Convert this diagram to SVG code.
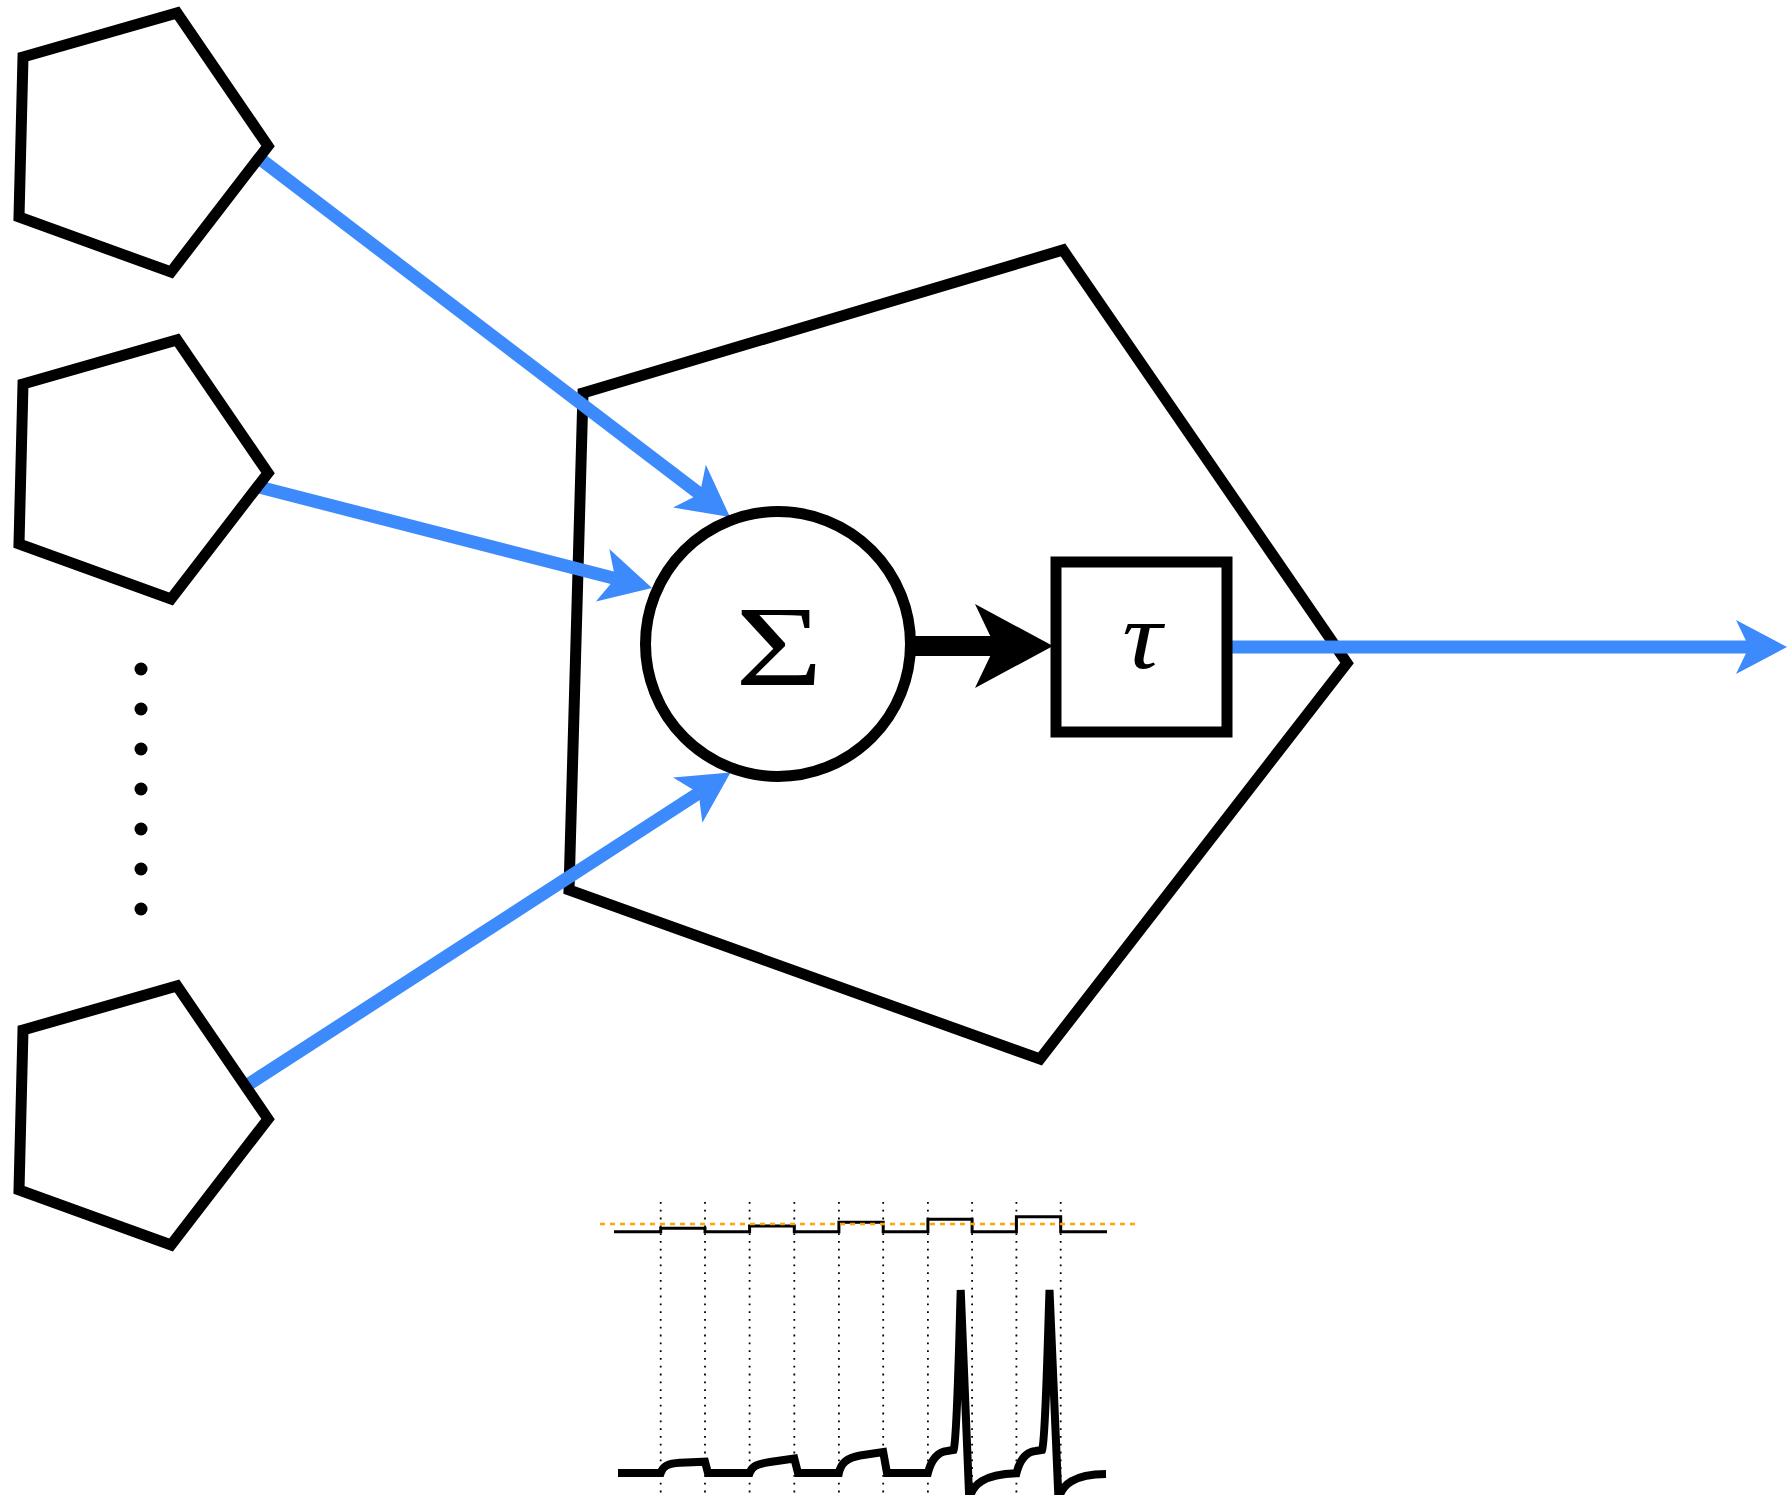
<svg xmlns="http://www.w3.org/2000/svg" width="1788" height="1495" viewBox="0 0 1788 1495">
  <defs>
    <style>
      .shape { fill: #ffffff; stroke: #000000; stroke-width: 11; stroke-linejoin: miter; }
      .blue { fill: none; stroke: #3c8afb; stroke-width: 13; }
      .dot { fill: #000000; }
      .grid { stroke: #000000; stroke-width: 1.8; stroke-dasharray: 1.8 6; fill: none; }
      .math { font-family: "Liberation Serif", "DejaVu Serif", serif; fill: #000000; }
    </style>
    <marker id="bluehead" markerUnits="userSpaceOnUse" orient="auto" refX="0" refY="0" markerWidth="120" markerHeight="120" viewBox="-60 -60 120 120" overflow="visible">
      <path d="M38,0 L-13,-27 L0,0 L-13,27 Z" fill="#3c8afb"/>
    </marker>
  </defs>

  <g id="neuron">
    <polygon class="shape" points="583,393 1063,250 1347,663 1040,1059 569,890"/>
  </g>

  <g id="connectors">
    <line class="blue" x1="259" y1="158" x2="699.8" y2="494" marker-end="url(#bluehead)"/>
    <line class="blue" x1="259" y1="487" x2="615.2" y2="578.5" marker-end="url(#bluehead)"/>
    <line class="blue" x1="246" y1="1086" x2="698.6" y2="793.1" marker-end="url(#bluehead)"/>
    <line class="blue" x1="1232" y1="647" x2="1749" y2="647" marker-end="url(#bluehead)"/>
    <line x1="905" y1="646" x2="997" y2="646" stroke="#000000" stroke-width="20"/>
    <polygon points="1053,646 975,604 995,646 975,688" fill="#000000"/>
  </g>

  <g id="input1">
    <polygon class="shape" points="23,57 177,13 268,146 171,272 19,217"/>
  </g>
  <g id="input2">
    <polygon class="shape" points="23,384 177,340 268,473 171,599 19,544"/>
  </g>
  <g id="input3">
    <polygon class="shape" points="23,1030 177,986 268,1119 171,1245 19,1190"/>
  </g>

  <g id="ellipsis">
    <circle class="dot" cx="141" cy="669" r="6.5"/>
    <circle class="dot" cx="141" cy="709" r="6.5"/>
    <circle class="dot" cx="141" cy="749" r="6.5"/>
    <circle class="dot" cx="141" cy="789" r="6.5"/>
    <circle class="dot" cx="141" cy="829" r="6.5"/>
    <circle class="dot" cx="141" cy="869" r="6.5"/>
    <circle class="dot" cx="141" cy="909" r="6.5"/>
  </g>

  <g id="sum">
    <circle class="shape" cx="778" cy="644" r="132.5"/>
    <text class="math" x="0" y="0" font-size="114" text-anchor="middle" transform="translate(779,685) scale(1.32,1)">Σ</text>
  </g>

  <g id="threshold">
    <rect class="shape" x="1056" y="562" width="171" height="170"/>
    <text class="math" x="0" y="0" font-size="96" font-style="italic" text-anchor="middle" transform="translate(1142,668) scale(1.15,1)">τ</text>
  </g>

  <g id="traces">
    <g id="gridlines">
      <line class="grid" x1="660.7" y1="1202" x2="660.7" y2="1495"/>
      <line class="grid" x1="705" y1="1202" x2="705" y2="1495"/>
      <line class="grid" x1="749.6" y1="1202" x2="749.6" y2="1495"/>
      <line class="grid" x1="794.3" y1="1202" x2="794.3" y2="1495"/>
      <line class="grid" x1="838.9" y1="1202" x2="838.9" y2="1495"/>
      <line class="grid" x1="883.2" y1="1202" x2="883.2" y2="1495"/>
      <line class="grid" x1="927.9" y1="1202" x2="927.9" y2="1495"/>
      <line class="grid" x1="972.1" y1="1202" x2="972.1" y2="1495"/>
      <line class="grid" x1="1016.4" y1="1202" x2="1016.4" y2="1495"/>
      <line class="grid" x1="1060.7" y1="1202" x2="1060.7" y2="1495"/>
    </g>
    <path id="input-steps" d="M614,1231.7 H660.7 V1228.3 H705 V1231.7 H749.6 V1226 H794.3 V1231.7 H838.9 V1222.3 H883.2 V1231.7 H927.9 V1219.3 H972.1 V1231.7 H1016.4 V1216.7 H1060.7 V1231.7 H1107" fill="none" stroke="#000000" stroke-width="3"/>
    <line id="threshold-line" x1="600" y1="1224" x2="1140" y2="1224" stroke="orange" stroke-width="2.5" stroke-dasharray="5 5"/>
    <path id="membrane" d="M618,1473 L660.7,1473 C663,1466 668,1463.5 680,1462.8 L705,1461.7 L708,1473 L749.6,1473 C752,1466 757,1464 770,1462 L794.3,1458.5 L798,1473 L838.9,1473 C841,1463 847,1458 860,1455.5 L883.2,1452 L887,1473 L927.9,1473 C931,1461 937,1452 947,1451 L953.6,1450 C957,1440 959,1350 960.7,1290 L969.3,1500 C972,1484 984,1474.5 1016.4,1473.3 C1019.5,1461 1025.5,1452 1035.5,1451 L1042.1,1450 C1045.5,1440 1047.5,1350 1049.5,1290 L1058.5,1500 C1061.5,1484 1074,1474.5 1106,1474" fill="none" stroke="#000000" stroke-width="8" stroke-linejoin="miter" stroke-miterlimit="3"/>
  </g>
</svg>
